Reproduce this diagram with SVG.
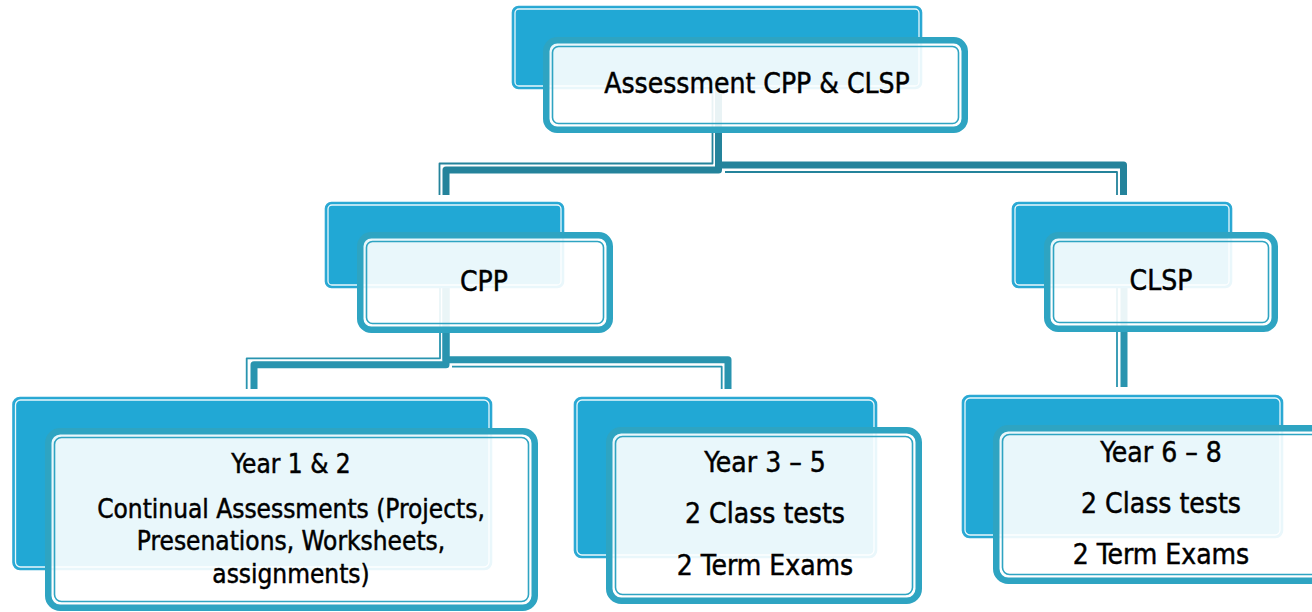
<svg xmlns="http://www.w3.org/2000/svg" width="1312" height="612" viewBox="0 0 1312 612">
<style>
.back{fill:#21A8D5;stroke:#2FA9D3;stroke-width:1.6}
.backin{fill:none;stroke:#ffffff;stroke-width:1.3;opacity:0.9}
.front{fill:#ffffff;fill-opacity:0.9;stroke:#2EA4C2;stroke-width:6.5}
.frontin{fill:none;stroke:#2EA4C2;stroke-width:1.6}
.t{font-family:"DejaVu Sans","Noto Sans",sans-serif;font-stretch:condensed;fill:#000;stroke:#000;stroke-width:0.45;text-anchor:middle}
.c1{fill:none;stroke:#24839B;stroke-linejoin:round}
.c2{fill:none;stroke:#2994AF;stroke-linejoin:round}
.thick{stroke-width:7}
.thin{stroke-width:1.8}
</style>
<rect width="1312" height="612" fill="#ffffff"/>
<g id="connectors">
  <path class="c1 thick" d="M718.5,89 V170 H446 V195"/>
  <path class="c1 thin" d="M712.5,89 V163.5 H439.5 V195"/>
  <path class="c1 thick" d="M718.5,89 V165 H1123.5 V195"/>
  <path class="c1 thin" d="M725,172 H1117 V195"/>
  <path class="c2 thick" d="M446,288 V364.7 H254 V389"/>
  <path class="c2 thin" d="M440,288 V358.3 H246.7 V389"/>
  <path class="c2 thick" d="M446,288 V359.7 H728 V389"/>
  <path class="c2 thin" d="M452,366.7 H721.7 V389"/>
  <path class="c2 thick" d="M1124,288 V387"/>
  <path class="c2 thin" d="M1117,288 V387"/>
</g>
<g id="node-root">
  <rect class="back" x="512.5" y="6.5" width="409" height="82" rx="6"/>
  <rect class="backin" x="515" y="9" width="404" height="77" rx="4"/>
  <rect class="front" x="546.25" y="40.25" width="418.5" height="89.5" rx="11"/>
  <rect class="frontin" x="552.5" y="46.5" width="406" height="77" rx="6"/>
  <text class="t" x="757" y="93" font-size="28">Assessment CPP &amp; CLSP</text>
</g>
<g id="node-cpp">
  <rect class="back" x="325.5" y="202.5" width="238" height="85" rx="6"/>
  <rect class="backin" x="328" y="205" width="233" height="80" rx="4"/>
  <rect class="front" x="360.25" y="235.25" width="249.5" height="94.5" rx="11"/>
  <rect class="frontin" x="366.5" y="241.5" width="237" height="82" rx="6"/>
  <text class="t" x="484" y="291" font-size="28">CPP</text>
</g>
<g id="node-clsp">
  <rect class="back" x="1012.5" y="202.5" width="219" height="85" rx="6"/>
  <rect class="backin" x="1015" y="205" width="214" height="80" rx="4"/>
  <rect class="front" x="1047.25" y="235.25" width="227.5" height="93.5" rx="11"/>
  <rect class="frontin" x="1053.5" y="241.5" width="215" height="81" rx="6"/>
  <text class="t" x="1161" y="290" font-size="28">CLSP</text>
</g>
<g id="node-year12">
  <rect class="back" x="13" y="397.5" width="478.5" height="172" rx="7"/>
  <rect class="backin" x="15.5" y="400" width="473.5" height="167" rx="5"/>
  <rect class="front" x="48.25" y="431.25" width="486.5" height="176.5" rx="12"/>
  <rect class="frontin" x="54.5" y="437.5" width="474" height="164" rx="7"/>
  <text class="t" x="291" y="473" font-size="26">Year 1 &amp; 2</text>
  <text class="t" x="291" y="518" font-size="26">Continual Assessments (Projects,</text>
  <text class="t" x="291" y="550" font-size="26">Presenations, Worksheets,</text>
  <text class="t" x="291" y="583" font-size="26">assignments)</text>
</g>
<g id="node-year35">
  <rect class="back" x="574.5" y="397.5" width="302" height="160" rx="7"/>
  <rect class="backin" x="577" y="400" width="297" height="155" rx="5"/>
  <rect class="front" x="609.25" y="430.25" width="309.5" height="170.5" rx="12"/>
  <rect class="frontin" x="615.5" y="436.5" width="297" height="158" rx="7"/>
  <text class="t" x="765" y="472" font-size="28">Year 3 – 5</text>
  <text class="t" x="765" y="523" font-size="28">2 Class tests</text>
  <text class="t" x="765" y="575" font-size="28">2 Term Exams</text>
</g>
<g id="node-year68">
  <rect class="back" x="962.5" y="395.5" width="320" height="142" rx="7"/>
  <rect class="backin" x="965" y="398" width="315" height="137" rx="5"/>
  <rect class="front" x="996.25" y="428.25" width="330" height="152.5" rx="12"/>
  <rect class="frontin" x="1002.5" y="434.5" width="318" height="140" rx="7"/>
  <text class="t" x="1161" y="462" font-size="28">Year 6 – 8</text>
  <text class="t" x="1161" y="513" font-size="28">2 Class tests</text>
  <text class="t" x="1161" y="564" font-size="28">2 Term Exams</text>
</g>
</svg>
